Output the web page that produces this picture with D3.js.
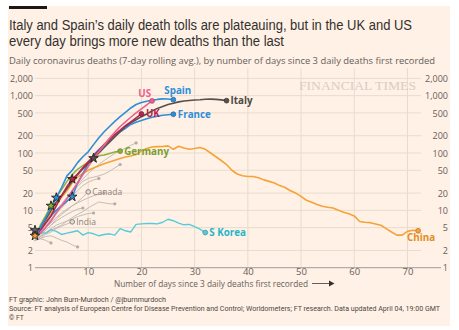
<!DOCTYPE html>
<html><head><meta charset="utf-8">
<script src="https://cdn.jsdelivr.net/npm/d3@7"></script>
<style>
body{margin:0;background:#fff;}
svg{display:block;font-family:"Open Sans",sans-serif;}
</style></head><body>
<svg id="c" width="459" height="330"></svg>
<script>
// ---- data (day index = position in array, starting at day 0) ----
const yTicks = [1, 2, 5, 10, 20, 50, 100, 200, 500, 1000, 2000];
const xTicks = [10, 20, 30, 40, 50, 60, 70];

const china = [3.6,4.6,6.5,9,12.5,17,22,30,38,44,50,55,60,65,70,75,80,85,89,94,108,120,127,129,130,133,116,131,122,116,120,125,116,100,86,74,63,50,43,40,39,39,37,34,32,30,27,25,22,20,17.5,15,13.8,12.6,11.8,11.3,11,10,9.3,8.7,8,6.4,6.2,6.1,5.8,5.5,4.8,4.2,3.7,3.7,4.3,4.5,4.4];
const sKorea = [4.0,4.1,4.0,4.6,4.3,3.8,4.0,4.2,4.4,3.7,4.1,3.9,3.6,3.8,3.9,3.7,4.8,4.4,4.2,5.7,5.8,5.9,5.9,5.8,6.2,7.0,6.6,6.0,5.6,5.7,5.2,4.7,4.1];
const spain = [3.5,5,7.5,11,16.6,25,40,50,68,86,105,140,185,235,290,355,430,510,610,700,760,800,830,860,880,875,850];
const france = [3.5,4.5,6,8,10,12,14.5,17.3,30,44,65,92,115,140,168,200,235,270,315,345,370,395,420,440,455,465,474];
const italy = [3.5,5,7,10,14,18,24,32,42,53,66,81,100,125,155,190,235,290,335,380,430,480,540,600,650,700,740,780,805,825,840,850,865,870,860,845,818];
const us = [3.5,4,5,6.5,9,12,16,22,30,42,58,80,105,140,180,230,290,350,420,500,590,690,809];
const uk = [3.5,4.5,6,8,12,18,26,35,43,55,70,88,110,140,170,210,250,300,350,410,480];
const germany = [3.5,5.5,8,12,17,23,32,42,52,60,69,80,90,92,98,104,108];
const canada = [3,3.5,4.5,5.5,7,8.5,10,12,14,17,21];
const india = [3,3.3,3.8,4.2,4.8,5.3,5.8,6.3];
const grey1 = [4.5,5,6,8,10,13,17,22,28,35,44,53,63,74,86,98,110,122,136,150];
const grey2 = [3,4,5,7,9,12,16,21,26,32,36,38,40,43,48,55,63];
const grey3 = [3,4,5.5,7,9,11,14,18,22,27,31,34,36];
const grey4 = [3,3.5,4,4.5,5,5.5,6.5,7.5,8.5,9.5,11,12.5,14,13.5,13,13];
const grey5 = [3,3.2,3.5,3.6,3.3,3,2.8,2.5,2.3];
const grey6 = [3,3.2,3,2.7];
const grey7 = [3,3.5,4,4.8,5.5,6,6.5,7,7.8,8.3,8.8,9];
const grey8 = [3,3.8,4.5,5.5,6.5,7.5,8.5,9.5,10.5,11];
const grey9 = [3,4,5,6,7.5,9,10.5,12,13.5,15,16.5,18,19,20];

// lockdown stars: series + day
const stars = [["grey1",0],["china",0],["germany",3],["spain",4],["france",7],["uk",7],["italy",11]];

// ---- styles ----
const GREY = "#c4bdb6";
const series = [
  {id:"grey1", data:grey1, color:GREY, w:1},
  {id:"grey2", data:grey2, color:GREY, w:1},
  {id:"grey3", data:grey3, color:GREY, w:1},
  {id:"grey4", data:grey4, color:GREY, w:1},
  {id:"grey5", data:grey5, color:GREY, w:1},
  {id:"grey6", data:grey6, color:GREY, w:1},
  {id:"grey7", data:grey7, color:GREY, w:1},
  {id:"grey8", data:grey8, color:GREY, w:1},
  {id:"grey9", data:grey9, color:GREY, w:1},
  {id:"canada", data:canada, color:GREY, w:1, label:"Canada", lc:"#8a837e", dx:4, dy:3, bold:false, dot:"open"},
  {id:"india", data:india, color:GREY, w:1, label:"India", lc:"#8a837e", dx:4, dy:3, bold:false, dot:"open"},
  {id:"china", data:china, color:"#f5a338", w:1.6, label:"China", lc:"#e08e1e", dx:3, dy:10, anchor:"middle", dot:"fill"},
  {id:"sKorea", data:sKorea, color:"#55cbdb", w:1.4, label:"S Korea", lc:"#1fb6c9", dx:4, dy:3.5, dot:"fill"},
  {id:"germany", data:germany, color:"#8cb03c", w:1.5, label:"Germany", lc:"#7a9e2c", dx:4, dy:3.5, dot:"fill"},
  {id:"france", data:france, color:"#2d8fd8", w:1.6, label:"France", lc:"#2d8fd8", dx:4.5, dy:3.5, dot:"fill"},
  {id:"italy", data:italy, color:"#55504c", w:1.6, label:"Italy", lc:"#4d4845", dx:4, dy:3.5, dot:"fill"},
  {id:"uk", data:uk, color:"#b8244f", w:1.6, label:"UK", lc:"#b8244f", dx:4.5, dy:3.5, dot:"fill"},
  {id:"us", data:us, color:"#ec5f8f", w:1.6, label:"US", lc:"#ec5f8f", dx:-1, dy:-3.5, anchor:"end", dot:"fill"},
  {id:"spain", data:spain, color:"#2d8fd8", w:1.6, label:"Spain", lc:"#2d8fd8", dx:-9, dy:-5.5, anchor:"start", dot:"fill"}
];
const byId = Object.fromEntries(series.map(s => [s.id, s]));

const svg = d3.select("#c");
// panel
svg.append("rect").attr("x",8).attr("y",6).attr("width",442).attr("height",320).attr("fill","#fff1e5");
svg.append("rect").attr("x",9).attr("y",6).attr("width",38).attr("height",3).attr("fill","#1a1817");

// titles
const title = svg.append("g").attr("fill","#33302e").style("font-size","14px").style("font-family","'Liberation Sans',Arial,sans-serif");
title.append("text").attr("x",9).attr("y",30).attr("textLength",403).attr("lengthAdjust","spacingAndGlyphs")
  .text("Italy and Spain\u2019s daily death tolls are plateauing, but in the UK and US");
title.append("text").attr("x",9).attr("y",46).attr("textLength",275).attr("lengthAdjust","spacingAndGlyphs")
  .text("every day brings more new deaths than the last");
svg.append("text").attr("x",9).attr("y",63.5).attr("fill","#66605c").style("font-size","9.4px")
  .attr("textLength",426).attr("lengthAdjust","spacingAndGlyphs")
  .text("Daily coronavirus deaths (7-day rolling avg.), by number of days since 3 daily deaths first recorded");

// scales
const x = d3.scaleLinear().domain([0, 76.3]).range([35, 441]);
const y = d3.scaleLog().domain([1, 3000]).range([267.7, 68.3]);

// gridlines
const grid = svg.append("g").attr("stroke","#e8dccf").attr("stroke-width",1);
grid.selectAll("line.v").data(xTicks).join("line")
  .attr("x1",d=>x(d)).attr("x2",d=>x(d)).attr("y1",y(3000)).attr("y2",y(1));
grid.selectAll("line.h").data(yTicks.filter(d=>d>1)).join("line")
  .attr("x1",35).attr("x2",421).attr("y1",d=>y(d)).attr("y2",d=>y(d));

// watermark
svg.append("text").attr("x",299).attr("y",89.5).attr("fill","#d8cdc3")
  .style("font-family","'Liberation Serif','DejaVu Serif',serif").style("font-size","12px")
  .attr("textLength",117).attr("lengthAdjust","spacingAndGlyphs").text("FINANCIAL TIMES");

// axes
const fmt = d3.format(",");
const yAxisL = d3.axisLeft(y).tickValues(yTicks).tickFormat(fmt).tickSize(0).tickPadding(0);
const gl = svg.append("g").attr("transform","translate(33,0)").call(yAxisL);
const yAxisR = d3.axisRight(y).tickValues(yTicks).tickFormat(fmt).tickSize(0).tickPadding(0);
const gr = svg.append("g").attr("transform","translate(448,0)").call(yAxisR);
gr.selectAll("text").attr("text-anchor","end");
[gl, gr].forEach(g => {
  g.select(".domain").remove();
  g.selectAll("text").attr("fill","#66605c").style("font-size","9px").style("font-family","'Open Sans',sans-serif").attr("dy","0.35em");
});
const xAxis = d3.axisBottom(x).tickValues(xTicks).tickSize(0).tickPadding(1);
const gx = svg.append("g").attr("transform",`translate(0,${y(1)})`).call(xAxis);
gx.select(".domain").attr("stroke","#a39c96").attr("d",`M35,0H441`);
gx.selectAll("text").attr("fill","#66605c").style("font-size","9.5px").style("font-family","'Open Sans',sans-serif");

// x title with arrow
svg.append("text").attr("x",114).attr("y",287).attr("fill","#66605c").style("font-size","9.8px")
  .attr("textLength",194).attr("lengthAdjust","spacingAndGlyphs")
  .text("Number of days since 3 daily deaths first recorded");
svg.append("line").attr("x1",312).attr("x2",330).attr("y1",283.5).attr("y2",283.5).attr("stroke","#66605c").attr("stroke-width",1);
svg.append("path").attr("d","M329,280.5L334.5,283.5L329,286.5Z").attr("fill","#33302e");

// lines
const line = d3.line().x((v,i)=>x(i)).y(v=>y(v));
const lg = svg.append("g").attr("fill","none").attr("stroke-linejoin","round").attr("stroke-linecap","round");
series.forEach(s => {
  lg.append("path").attr("d", line(s.data)).attr("stroke", s.color).attr("stroke-width", s.w);
});

// end markers
const mg = svg.append("g");
series.forEach(s => {
  const i = s.data.length - 1, cx = x(i), cy = y(s.data[i]);
  if (!s.dot) {
    mg.append("circle").attr("cx",cx).attr("cy",cy).attr("r",1.6).attr("fill","#b3aca5");
  } else if (s.dot === "open") {
    mg.append("circle").attr("cx",cx).attr("cy",cy).attr("r",2.3).attr("fill","#e6ddd4").attr("stroke","#8a837e").attr("stroke-width",1);
  } else {
    mg.append("circle").attr("cx",cx).attr("cy",cy).attr("r",2.4).attr("fill",s.color)
      .attr("stroke",d3.color(s.color).darker(0.9)).attr("stroke-width",0.8);
  }
});

// stars
const star = d3.symbol(d3.symbolStar, 28);
stars.forEach(([id, day]) => {
  const s = byId[id];
  const fill = s.color === GREY ? "#6b6560" : s.color;
  svg.append("path").attr("d", star()).attr("transform",`translate(${x(day)},${y(s.data[day])})`)
    .attr("fill", fill).attr("stroke","#1f1d1c").attr("stroke-width",0.9).attr("stroke-linejoin","round");
});

// labels
series.filter(s => s.label).forEach(s => {
  const i = s.data.length - 1;
  svg.append("text").attr("x", x(i) + s.dx).attr("y", y(s.data[i]) + s.dy)
    .attr("text-anchor", s.anchor || "start").attr("fill", s.lc)
    .style("font-size", s.bold === false ? "8.5px" : "9.8px")
    .style("font-weight", s.bold === false ? 400 : 700)
    .text(s.label);
});

// footer
const foot = svg.append("g").attr("fill","#4d4845").style("font-size","6.7px").style("font-family","Roboto,sans-serif");
foot.append("text").attr("x",9).attr("y",301.5).attr("textLength",157).attr("lengthAdjust","spacingAndGlyphs")
  .text("FT graphic: John Burn-Murdoch / @jburnmurdoch");
foot.append("text").attr("x",9).attr("y",310.5).attr("textLength",431).attr("lengthAdjust","spacingAndGlyphs")
  .text("Source: FT analysis of European Centre for Disease Prevention and Control; Worldometers; FT research. Data updated April 04, 19:00 GMT");
foot.append("text").attr("x",9).attr("y",319.5).text("\u00a9 FT");
</script>
</body></html>
